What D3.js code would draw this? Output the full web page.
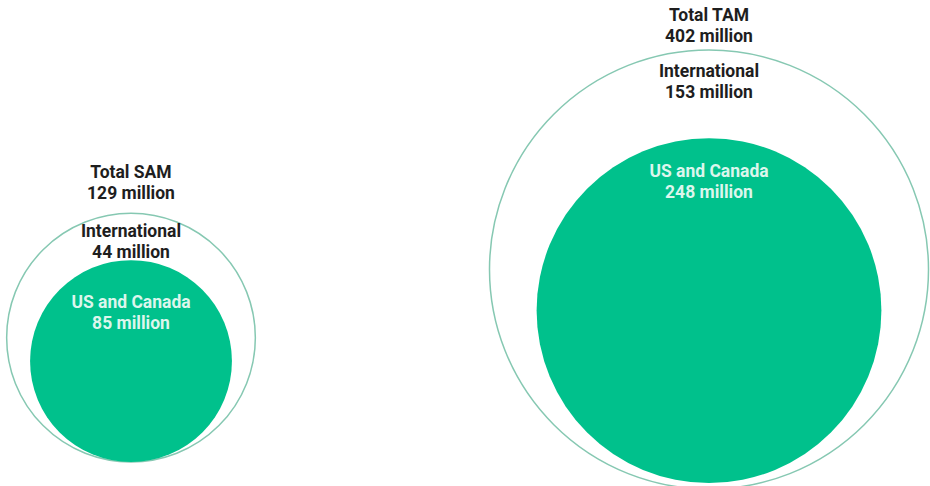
<!DOCTYPE html>
<html>
<head>
<meta charset="utf-8">
<script src="https://cdn.jsdelivr.net/npm/d3@7"></script>
<style>
  html, body { margin: 0; padding: 0; background: #fff; }
  svg { display: block; font-family: Roboto, 'Noto Sans', sans-serif; }
</style>
</head>
<body>
<div id="chart"></div>
<script>
// market sizes, millions of users
const totalLabels = ['Total SAM', 'Total TAM']
const totals = [129, 402]
const intlLabels = ['International', 'International']
const international = [44, 153]
const coreLabels = ['US and Canada', 'US and Canada']
const usCanada = [85, 248]

const width = 930
const height = 486
const green = '#00c18c'

// where each pair of circles sits, and label offsets from the circle tops
const layout = [
  { cx: 131, outerBottom: 462, innerBottom: 462, totalDy: -14, intlDy: 24, coreDy: 48 },
  { cx: 709, outerBottom: 489, innerBottom: 483, totalDy: -8, intlDy: 27, coreDy: 39 }
]

const r = d3.scaleSqrt()
  .domain([0, d3.max(totals)])
  .range([0, 219.5])

const svg = d3.select('#chart')
  .append('svg')
  .attr('width', width)
  .attr('height', height)

const data = totals.map((t, i) => ({
  total: t,
  intl: international[i],
  core: usCanada[i],
  totalLabel: totalLabels[i],
  intlLabel: intlLabels[i],
  coreLabel: coreLabels[i],
  ...layout[i]
}))

const groups = svg.selectAll('g.panel')
  .data(data)
  .join('g')
  .attr('class', 'panel')

// outer ring (total)
groups.append('circle')
  .attr('cx', d => d.cx)
  .attr('cy', d => d.outerBottom - r(d.total))
  .attr('r', d => r(d.total))
  .attr('fill', 'none')
  .attr('stroke', '#86c8b2')
  .attr('stroke-width', 1.5)

// filled core market
groups.append('circle')
  .attr('cx', d => d.cx)
  .attr('cy', d => d.innerBottom - r(d.core))
  .attr('r', d => r(d.core))
  .attr('fill', green)

function twoLines (sel, y, l1, l2, color) {
  const t = sel.append('text')
    .attr('text-anchor', 'middle')
    .attr('font-size', 17.5)
    .attr('font-weight', 700)
    .attr('fill', color)
  t.append('tspan').attr('x', d => d.cx).attr('y', y).text(l1)
  t.append('tspan').attr('x', d => d.cx).attr('y', d => y(d) + 21).text(l2)
}

twoLines(groups,
  d => d.outerBottom - 2 * r(d.total) + d.totalDy - 21,
  d => d.totalLabel, d => `${d.total} million`, '#1e1e1e')

twoLines(groups,
  d => d.outerBottom - 2 * r(d.total) + d.intlDy,
  d => d.intlLabel, d => `${d.intl} million`, '#1e1e1e')

twoLines(groups,
  d => d.innerBottom - 2 * r(d.core) + d.coreDy,
  d => d.coreLabel, d => `${d.core} million`, '#dcf6ec')
</script>
</body>
</html>
